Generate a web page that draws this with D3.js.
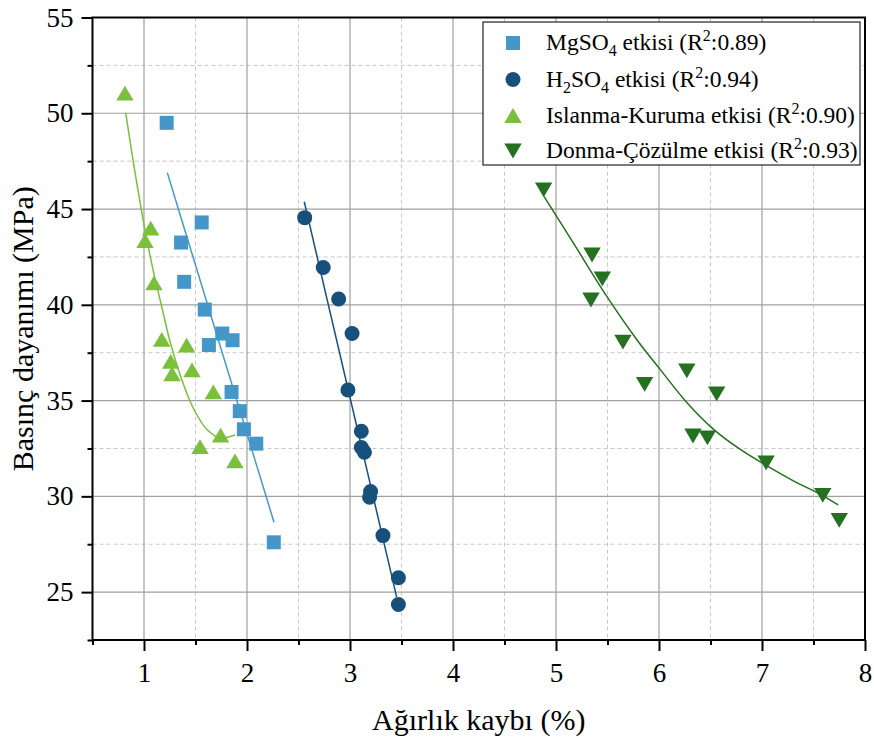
<!DOCTYPE html>
<html>
<head>
<meta charset="utf-8">
<script src="https://cdn.jsdelivr.net/npm/d3@7"></script>
<style>
  html, body { margin: 0; padding: 0; background: #fff; }
  svg { display: block; }
  text { font-family: "Liberation Serif", "Times New Roman", serif; fill: #000; }
</style>
</head>
<body>
<svg id="chart" width="874" height="738"></svg>
<script>
// ---------- data ----------
const xTicks = [1, 2, 3, 4, 5, 6, 7, 8];
const xMinorTicks = [0.5, 1.5, 2.5, 3.5, 4.5, 5.5, 6.5, 7.5];
const yTicks = [25, 30, 35, 40, 45, 50, 55];
const yMinorTicks = [22.5, 27.5, 32.5, 37.5, 42.5, 47.5, 52.5];

const seriesNames = ["MgSO4", "H2SO4", "Islanma-Kuruma", "Donma-Çözülme"];
const r2Values = ["0.89", "0.94", "0.90", "0.93"];

const mgX = [1.22, 1.56, 1.36, 1.39, 1.59, 1.76, 1.86, 1.63, 1.85, 1.93, 1.97, 2.09, 2.26];
const mgY = [49.5, 44.3, 43.25, 41.2, 39.75, 38.5, 38.15, 37.9, 35.45, 34.45, 33.5, 32.75, 27.6];

const h2X = [2.56, 2.74, 2.89, 3.02, 2.98, 3.11, 3.11, 3.14, 3.20, 3.19, 3.32, 3.47, 3.47];
const h2Y = [44.55, 41.95, 40.3, 38.5, 35.55, 33.4, 32.55, 32.3, 30.25, 29.95, 27.95, 25.75, 24.35];

const ikX = [0.815, 1.065, 1.01, 1.097, 1.172, 1.414, 1.259, 1.272, 1.466, 1.673, 1.744, 1.544, 1.883];
const ikY = [51.05, 44.0, 43.35, 41.15, 38.2, 37.9, 37.05, 36.4, 36.6, 35.45, 33.2, 32.6, 31.85];

const dcX = [4.88, 5.35, 5.45, 5.34, 5.65, 6.27, 5.86, 6.56, 6.33, 6.47, 7.04, 7.59, 7.75];
const dcY = [46.0, 42.6, 41.35, 40.25, 38.05, 36.55, 35.85, 35.35, 33.15, 33.05, 31.75, 30.05, 28.75];

// fitted curves
const mgFitX = [1.226, 2.262];
const mgFitY = [46.9, 28.65];
const h2FitX = [2.556, 3.453];
const h2FitY = [45.38, 24.74];
const ikFitX = [0.822, 0.91, 1.01, 1.097, 1.172, 1.252, 1.366, 1.479, 1.609, 1.738, 1.883];
const ikFitY = [50.03, 47.0, 43.9, 41.6, 39.9, 38.1, 36.1, 34.6, 33.5, 33.05, 33.2];
const dcFitX = [4.883, 5.168, 5.492, 5.783, 6.011, 6.27, 6.527, 6.786, 7.045, 7.304, 7.563, 7.74];
const dcFitY = [45.66, 43.23, 40.45, 38.19, 36.63, 34.9, 33.51, 32.46, 31.6, 30.81, 30.12, 29.55];

// ---------- layout / style ----------
const colors = ["#4597C9", "#17507B", "#7AC03B", "#257021"];
const shapes = ["square", "circle", "triUp", "triDown"];
const L = 92.5, R = 865, T = 17.5, B = 640;
const SERIF = "'Liberation Serif', 'Times New Roman', Times, serif";

const svg = d3.select("#chart");
const x = d3.scaleLinear().domain([0.5, 8]).range([L, R]);
const y = d3.scaleLinear().domain([22.5, 55]).range([B, T]);

// grid
const grid = svg.append("g");
grid.selectAll(".gxm").data(xMinorTicks.filter(v => v > 0.5)).join("line")
  .attr("x1", d => x(d)).attr("x2", d => x(d)).attr("y1", T).attr("y2", B)
  .attr("stroke", "#c8c8c8").attr("stroke-width", 1).attr("stroke-dasharray", "4,3");
grid.selectAll(".gym").data(yMinorTicks.filter(v => v > 22.5)).join("line")
  .attr("y1", d => y(d)).attr("y2", d => y(d)).attr("x1", L).attr("x2", R)
  .attr("stroke", "#c8c8c8").attr("stroke-width", 1).attr("stroke-dasharray", "4,3");
grid.selectAll(".gx").data(xTicks.filter(v => v < 8)).join("line")
  .attr("x1", d => x(d)).attr("x2", d => x(d)).attr("y1", T).attr("y2", B)
  .attr("stroke", "#a0a0a0").attr("stroke-width", 1.2);
grid.selectAll(".gy").data(yTicks.filter(v => v < 55)).join("line")
  .attr("y1", d => y(d)).attr("y2", d => y(d)).attr("x1", L).attr("x2", R)
  .attr("stroke", "#a0a0a0").attr("stroke-width", 1.2);

// markers
function symbolPath(shape, cx, cy) {
  if (shape === "square") {
    const h = 7;
    return `M${cx-h},${cy-h}H${cx+h}V${cy+h}H${cx-h}Z`;
  }
  if (shape === "circle") {
    const r = 7.5;
    return `M${cx-r},${cy}A${r},${r} 0 1,0 ${cx+r},${cy}A${r},${r} 0 1,0 ${cx-r},${cy}Z`;
  }
  const w = 8.7, h = 7.4;
  if (shape === "triUp") return `M${cx-w},${cy+h}L${cx+w},${cy+h}L${cx},${cy-h}Z`;
  return `M${cx-w},${cy-h}L${cx+w},${cy-h}L${cx},${cy+h}Z`;
}

const allX = [mgX, h2X, ikX, dcX];
const allY = [mgY, h2Y, ikY, dcY];
const fitX = [mgFitX, h2FitX, ikFitX, dcFitX];
const fitY = [mgFitY, h2FitY, ikFitY, dcFitY];

const marks = svg.append("g");
allX.forEach((xs, i) => {
  const pts = xs.map((v, j) => [v, allY[i][j]]);
  marks.append("g").selectAll("path").data(pts).join("path")
    .attr("d", d => symbolPath(shapes[i], x(d[0]), y(d[1])))
    .attr("fill", colors[i]);
});

// fit lines
const line = d3.line().x(d => x(d[0])).y(d => y(d[1])).curve(d3.curveCatmullRom.alpha(0.5));
fitX.forEach((xs, i) => {
  const pts = xs.map((v, j) => [v, fitY[i][j]]);
  svg.append("path").datum(pts).attr("d", line)
    .attr("fill", "none").attr("stroke", colors[i]).attr("stroke-width", 1.5);
});

// axes
const fontTick = 27;
const xAxis = svg.append("g").attr("transform", `translate(0,${B})`)
  .call(d3.axisBottom(x).tickValues(xTicks).tickSize(11).tickPadding(12).tickFormat(d3.format("d")));
const xMinor = svg.append("g").attr("transform", `translate(0,${B})`)
  .call(d3.axisBottom(x).tickValues(xMinorTicks).tickSize(5).tickFormat(""));
const yAxis = svg.append("g").attr("transform", `translate(${L},0)`)
  .call(d3.axisLeft(y).tickValues(yTicks).tickSize(11).tickPadding(8).tickFormat(d3.format("d")));
const yMinor = svg.append("g").attr("transform", `translate(${L},0)`)
  .call(d3.axisLeft(y).tickValues(yMinorTicks).tickSize(5).tickFormat(""));
[xAxis, xMinor, yAxis, yMinor].forEach(g => {
  g.attr("font-family", SERIF).attr("font-size", fontTick);
  g.select(".domain").remove();
  g.selectAll(".tick line").attr("stroke", "#000").attr("stroke-width", 2);
  g.selectAll(".tick text").attr("font-size", fontTick)
    .style("font-family", SERIF).attr("fill", "#000");
});

// frame
svg.append("rect").attr("x", L).attr("y", T).attr("width", R - L).attr("height", B - T)
  .attr("fill", "none").attr("stroke", "#000").attr("stroke-width", 2);

// axis titles
svg.append("text").attr("x", (L + R) / 2).attr("y", 730).attr("text-anchor", "middle")
  .style("font-family", SERIF).attr("font-size", 30).text("Ağırlık kaybı (%)");
svg.append("text").attr("transform", `translate(33,${(T + B) / 2}) rotate(-90)`)
  .style("font-family", SERIF).attr("text-anchor", "middle").attr("font-size", 30).text("Basınç dayanımı (MPa)");

// legend
const lg = svg.append("g");
lg.append("rect").attr("x", 483).attr("y", 22).attr("width", 377).attr("height", 143)
  .attr("fill", "#fff").attr("stroke", "#222").attr("stroke-width", 1.2);
const rowBase = [50, 86.5, 122.5, 158];
const legendParts = [
  [["MgSO", 0], ["4", 1], [" etkisi (R", 0], ["2", -1], [":" + r2Values[0] + ")", 0]],
  [["H", 0], ["2", 1], ["SO", 0], ["4", 1], [" etkisi (R", 0], ["2", -1], [":" + r2Values[1] + ")", 0]],
  [[seriesNames[2] + " etkisi (R", 0], ["2", -1], [":" + r2Values[2] + ")", 0]],
  [[seriesNames[3] + " etkisi (R", 0], ["2", -1], [":" + r2Values[3] + ")", 0]]
];
legendParts.forEach((parts, i) => {
  lg.append("path").attr("d", symbolPath(shapes[i], 513, rowBase[i] - 7)).attr("fill", colors[i]);
  const t = lg.append("text").attr("x", 546).attr("y", rowBase[i]).attr("font-size", 23.5)
    .style("font-family", SERIF);
  let shift = 0;
  parts.forEach(([s, k]) => {
    const target = k === 1 ? 6 : (k === -1 ? -9 : 0);
    const ts = t.append("tspan").text(s).attr("dy", target - shift);
    if (k !== 0) ts.attr("font-size", 16);
    shift = target;
  });
});
</script>
</body>
</html>
